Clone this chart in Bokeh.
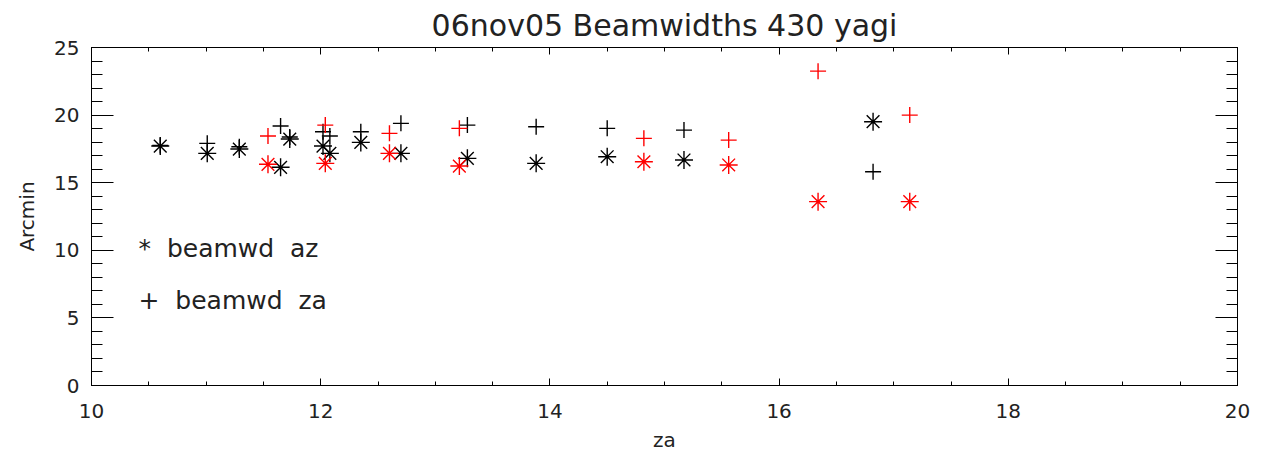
from bokeh.plotting import figure
from bokeh.models import LinearAxis, Range1d, Label, SingleIntervalTicker, CustomJSTickFormatter
from bokeh.embed import file_html
from bokeh.resources import INLINE

# ---- data ----
blk_x = [10.60, 11.01, 11.29, 11.65, 11.73, 12.02, 12.08, 12.35, 12.70, 13.28, 13.88, 14.50, 15.17, 16.82]
blk_az = [17.71, 17.17, 17.49, 16.14, 18.23, 17.71, 17.17, 17.98, 17.17, 16.80, 16.43, 16.92, 16.68, 19.51]
blk_za = [17.75, 17.91, 17.66, 19.19, 18.38, 18.77, 18.45, 18.77, 19.39, 19.26, 19.14, 19.02, 18.89, 15.81]

red_x = [11.54, 12.04, 12.60, 13.21, 14.82, 15.56, 16.34, 17.14]
red_az = [16.36, 16.43, 17.17, 16.23, 16.55, 16.31, 13.60, 13.60]
red_za = [18.45, 19.26, 18.65, 19.02, 18.28, 18.15, 23.25, 20.00]

title_text = "06nov05 Beamwidths 430 yagi"
x_label = "za"
y_label = "Arcmin"
NB = "\u00a0"
legend_az = "*" + NB * 2 + "beamwd" + NB * 2 + "az"
legend_za = "+" + NB * 2 + "beamwd" + NB * 2 + "za"

FONT = "DejaVu Sans"
TXT = "#222222"

p = figure(width=1259, height=454, output_backend="svg", toolbar_location=None,
           x_range=Range1d(10, 20), y_range=Range1d(0, 25),
           min_border_left=91, min_border_right=22, min_border_top=47, min_border_bottom=66,
           title=title_text)

p.title.align = "center"
p.title.text_font = FONT
p.title.text_font_size = "30px"
p.title.text_font_style = "normal"
p.title.text_color = TXT
p.title.standoff = 9

p.grid.visible = False
p.outline_line_color = "black"
p.outline_line_width = 1
p.background_fill_color = "white"
p.border_fill_color = "white"

xt = SingleIntervalTicker(interval=2, num_minor_ticks=4)
yt = SingleIntervalTicker(interval=5, num_minor_ticks=5)

def style_axis(ax, ticker, maj, mnr, show_labels):
    ax.ticker = ticker
    ax.major_tick_in = maj
    ax.major_tick_out = 0
    ax.minor_tick_in = mnr
    ax.minor_tick_out = 0
    ax.axis_line_color = "black"
    ax.major_tick_line_color = "black"
    ax.minor_tick_line_color = "black"
    ax.major_label_text_font = FONT
    ax.major_label_text_color = TXT
    ax.axis_label_text_font = FONT
    ax.axis_label_text_color = TXT
    ax.axis_label_text_font_style = "normal"
    if not show_labels:
        ax.formatter = CustomJSTickFormatter(code="return ''")
        ax.major_label_standoff = 0

# bottom
xa = p.xaxis[0]
style_axis(xa, xt, 7, 4, True)
xa.major_label_text_font_size = "20px"
xa.major_label_standoff = 18
xa.axis_label = x_label
xa.axis_label_text_font_size = "20px"
xa.axis_label_standoff = 7

# left
ya = p.yaxis[0]
style_axis(ya, yt, 22, 11, True)
ya.major_label_text_font_size = "20px"
ya.major_label_standoff = 12
ya.axis_label = y_label
ya.axis_label_text_font_size = "20px"
ya.axis_label_standoff = 12

# top and right tick axes
top = LinearAxis()
style_axis(top, SingleIntervalTicker(interval=2, num_minor_ticks=4), 7, 4, False)
p.add_layout(top, "above")
right = LinearAxis()
style_axis(right, SingleIntervalTicker(interval=5, num_minor_ticks=5), 22, 11, False)
p.add_layout(right, "right")

# data markers
p.scatter(blk_x, blk_za, marker="cross", size=16, line_color="black", line_width=1.4)
p.scatter(blk_x, blk_az, marker="asterisk", size=18, line_color="black", line_width=1.4)
p.scatter(red_x, red_za, marker="cross", size=16, line_color="red", line_width=1.4)
p.scatter(red_x, red_az, marker="asterisk", size=18, line_color="red", line_width=1.4)

# legend text
for txt, yy in [(legend_az, 10.1), (legend_za, 6.3)]:
    p.add_layout(Label(x=10.41, y=yy, text=txt, text_font=FONT, text_font_size="25px",
                       text_color=TXT, text_baseline="middle", text_align="left"))

open("out.html", "w").write(file_html(p, INLINE))
